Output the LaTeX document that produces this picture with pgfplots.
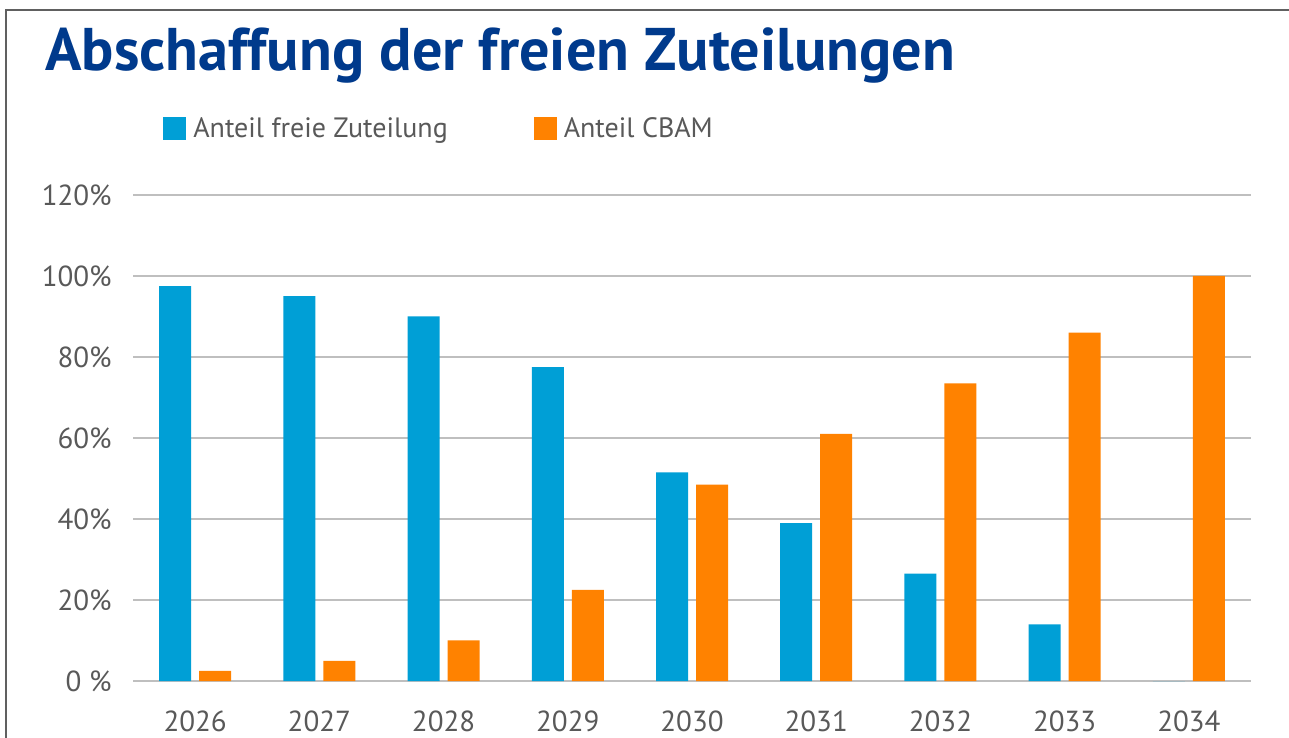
\documentclass[border=0pt]{standalone}
\usepackage{pgfplots}
\pgfplotsset{compat=1.18}
\usepackage{fontspec}
\setmainfont{PT Sans}
\definecolor{barblue}{RGB}{0,159,214}
\definecolor{barorange}{RGB}{255,130,0}
\definecolor{titleblue}{RGB}{0,58,140}
\definecolor{txtgray}{RGB}{89,89,89}
\definecolor{gridgray}{RGB}{191,191,191}
\definecolor{framegray}{RGB}{96,96,96}
\begin{document}
\begin{tikzpicture}
\useasboundingbox (0,0) rectangle (644.5pt,369pt);
\fill[white] (0,0) rectangle (644.5pt,369pt);
\draw[framegray, line width=1pt] (3.2pt,0) -- (3.2pt,364pt) -- (644.5pt,364pt);
\node[anchor=base west, inner sep=0pt, text=titleblue, font=\fontsize{30.1}{36}\selectfont\bfseries] at (22.5pt,333.5pt) {Abschaffung der freien Zuteilungen};
\begin{axis}[
  at={(66.5pt,28.5pt)}, anchor=south west,
  scale only axis, width=559pt, height=243pt,
  xmin=-0.5, xmax=8.5, ymin=0, ymax=120,
  ybar=4pt, bar width=16pt,
  xtick=data,
  xticklabels={2026,2027,2028,2029,2030,2031,2032,2033,2034},
  ytick={0,20,40,60,80,100,120},
  yticklabels={0 \%,20\%,40\%,60\%,80\%,100\%,120\%},
  axis line style={draw=none},
  major tick length=0pt,
  ymajorgrids, grid style={gridgray, line width=0.6pt},
  tick label style={text=txtgray, font=\fontsize{14.5}{17}\selectfont},
  yticklabel style={anchor=east, inner sep=0pt, xshift=-10.5pt},
  xticklabel style={anchor=north, inner sep=0pt, yshift=-14.5pt},
  legend columns=2,
  legend image code/.code={\fill[#1] (0pt,-5.75pt) rectangle (11.5pt,5.75pt);},
  legend style={at={(0.0268,1.1358)}, anchor=west, draw=none, fill=none, inner sep=0pt,
    font=\fontsize{14}{17}\selectfont, text=txtgray,
    nodes={inner sep=0pt},
    /tikz/every odd column/.append style={column sep=3.5pt},
    /tikz/every even column/.append style={column sep=43pt}},
]
\addplot[draw=none, fill=barblue] coordinates {(0,97.5) (1,95) (2,90) (3,77.5) (4,51.5) (5,39) (6,26.5) (7,14) (8,0)};
\addplot[draw=none, fill=barorange] coordinates {(0,2.5) (1,5) (2,10) (3,22.5) (4,48.5) (5,61) (6,73.5) (7,86) (8,100)};
\legend{Anteil freie Zuteilung, Anteil CBAM}
\end{axis}
\end{tikzpicture}
\end{document}
